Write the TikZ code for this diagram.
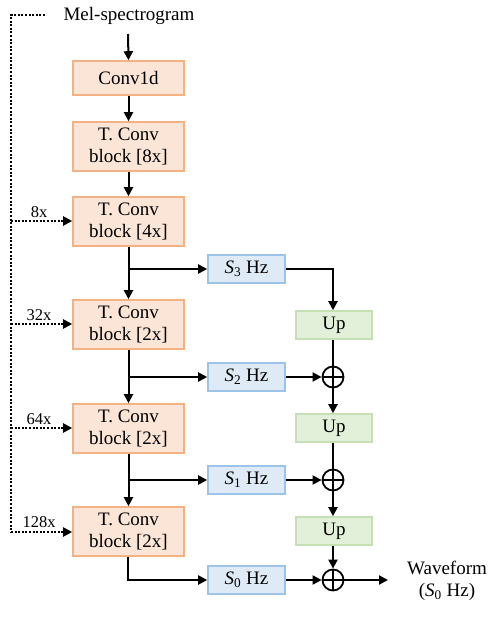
\documentclass[tikz,border=0pt]{standalone}
\usepackage{fontspec}
\setmainfont{Liberation Serif}
\usetikzlibrary{arrows.meta}
\definecolor{orfill}{HTML}{FBE5D6}
\definecolor{ordraw}{HTML}{F4B183}
\definecolor{blfill}{HTML}{DEEBF7}
\definecolor{bldraw}{HTML}{9DC3E6}
\definecolor{grfill}{HTML}{E2F0D9}
\definecolor{grdraw}{HTML}{C5E0B4}
\newcommand\Shz[1]{\textit{S}\textsubscript{#1}~Hz}
\begin{document}
\begin{tikzpicture}[x=1pt,y=-1pt,
  font=\fontsize{19}{22}\selectfont,
  orbox/.style={draw=ordraw,fill=orfill,line width=1.6pt,minimum width=111pt,align=center,inner sep=0pt},
  blbox/.style={draw=bldraw,fill=blfill,line width=1.6pt,minimum width=77pt,minimum height=28pt,inner sep=0pt},
  grbox/.style={draw=grdraw,fill=grfill,line width=1.6pt,minimum width=76pt,minimum height=28pt,inner sep=0pt},
  oplus/.style={circle,draw,line width=1.8pt,minimum size=21pt,inner sep=0pt,
    path picture={\draw[line width=1.8pt] (path picture bounding box.north) -- (path picture bounding box.south)
      (path picture bounding box.west) -- (path picture bounding box.east);}},
  arr/.style={line width=2pt,-{Triangle[length=9pt,width=9pt]}},
  ln/.style={line width=2pt},
  dot/.style={line width=2pt,dash pattern=on 2pt off 1.6pt},
  darr/.style={dot,-{Triangle[length=9pt,width=9pt]}},
  lbl/.style={font=\fontsize{16.5}{18}\selectfont,inner sep=0pt}]
\useasboundingbox (0,0) rectangle (498,618);

\node[inner sep=0pt] (mel) at (129,16) {Mel-spectrogram};
\node[orbox,minimum height=34pt] (c1) at (128.5,78) {Conv1d};
\node[orbox,minimum height=49pt] (b8) at (128.5,146.5) {T. Conv\\block [8x]};
\node[orbox,minimum height=49pt] (b4) at (128.5,221.5) {T. Conv\\block [4x]};
\node[orbox,minimum height=49pt] (b2a) at (128.5,324.5) {T. Conv\\block [2x]};
\node[orbox,minimum height=49pt] (b2b) at (128.5,428.5) {T. Conv\\block [2x]};
\node[orbox,minimum height=49pt] (b2c) at (128.5,531.5) {T. Conv\\block [2x]};

\node[blbox] (s3) at (246.5,269) {\Shz{3}};
\node[blbox] (s2) at (246.5,377) {\Shz{2}};
\node[blbox] (s1) at (246.5,480) {\Shz{1}};
\node[blbox] (s0) at (246.5,580) {\Shz{0}};

\node[grbox] (u1) at (334,325) {Up};
\node[grbox] (u2) at (334,428) {Up};
\node[grbox] (u3) at (334,531) {Up};

\node[oplus] (p2) at (333,377) {};
\node[oplus] (p1) at (333,480) {};
\node[oplus] (p0) at (333,580) {};

\node[align=center,inner sep=0pt] (wave) at (447,581) {Waveform\\(\textit{S}\textsubscript{0}~Hz)};

% main chain
\coordinate (melb) at (128,34);
\draw[arr] (melb) -- (c1.north);
\draw[arr] (c1.south) -- (b8.north);
\draw[arr] (b8.south) -- (b4.north);
\draw[arr] (b4.south) -- (b2a.north);
\draw[arr] (b2a.south) -- (b2b.north);
\draw[arr] (b2b.south) -- (b2c.north);

% branches
\coordinate (j3) at (128,269);
\coordinate (j2) at (128,377);
\coordinate (j1) at (128,480);
\draw[arr] (j3) -- (s3.west);
\draw[arr] (j2) -- (s2.west);
\draw[arr] (j1) -- (s1.west);
\draw[arr] (b2c.south -| j1) |- (s0.west);

% right column
\draw[arr] (s3.east) -| (u1.north -| p2);
\draw[ln] (u1.south -| p2) -- (p2.north);
\draw[arr] (s2.east) -- (p2.west);
\draw[arr] (p2.south) -- (u2.north -| p2);
\draw[ln] (u2.south -| p1) -- (p1.north);
\draw[arr] (s1.east) -- (p1.west);
\draw[arr] (p1.south) -- (u3.north -| p1);
\draw[arr] (u3.south -| p0) -- (p0.north);
\draw[arr] (s0.east) -- (p0.west);
\coordinate (out) at (388,580);
\draw[arr] (p0.east) -- (out);

% dotted skip lines
\coordinate (d0) at (45,15);
\coordinate (dc) at (11,15);
\coordinate (dl) at (11,532);
\draw[dot] (d0) -- (dc) -- (dl);
\draw[darr] (11,221) -- (b4.west |- 0,221);
\draw[darr] (11,324) -- (b2a.west |- 0,324);
\draw[darr] (11,428) -- (b2b.west |- 0,428);
\draw[darr] (dl) -- (b2c.west |- dl);

\node[lbl] (l8) at (39,212) {8x};
\node[lbl] (l32) at (39,315) {32x};
\node[lbl] (l64) at (39,419) {64x};
\node[lbl] (l128) at (39,522) {128x};
\end{tikzpicture}
\end{document}
